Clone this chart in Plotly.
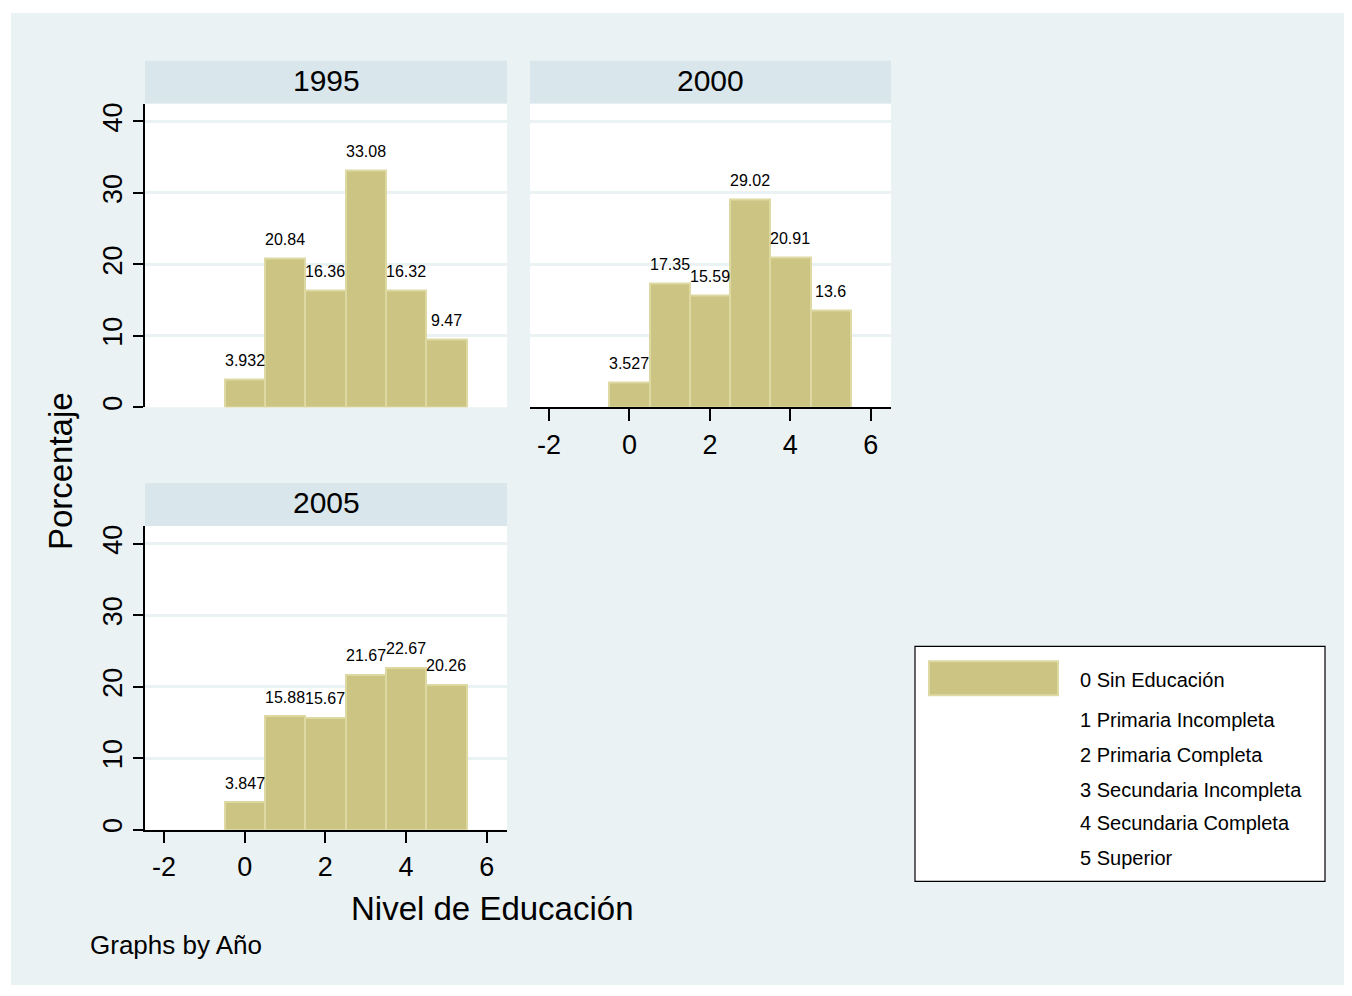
import plotly.graph_objects as go

# ---------------- data ----------------
years = ["1995", "2000", "2005"]
levels = [0, 1, 2, 3, 4, 5]
pct_1995 = [3.932, 20.84, 16.36, 33.08, 16.32, 9.47]
pct_2000 = [3.527, 17.35, 15.59, 29.02, 20.91, 13.6]
pct_2005 = [3.847, 15.88, 15.67, 21.67, 22.67, 20.26]
x_ticks = [-2, 0, 2, 4, 6]
x_tick_text = ["-2", "0", "2", "4", "6"]
y_ticks = [0, 10, 20, 30, 40]
legend_labels = ["0 Sin Educación", "1 Primaria Incompleta", "2 Primaria Completa",
                 "3 Secundaria Incompleta", "4 Secundaria Completa", "5 Superior"]
x_title = "Nivel de Educación"
y_title = "Porcentaje"
note = "Graphs by Año"

# ---------------- style ----------------
OFF = 8                       # page body margin
W, H = 1344, 980
FONT = "Liberation Sans, Arial, Helvetica, sans-serif"
BG = "#eaf2f3"
STRIP = "#d9e6eb"
BAR = "rgb(204,196,130)"
BAR_LINE = "rgb(222,217,163)"
GRID = "#eaf2f3"


def fx(p):
    return (p - OFF) / W


def fy(p):
    return 1 - (p - OFF) / H


# panel pixel boxes in screen coordinates (left, right, top, bottom)
panels = [
    (145, 507, 103, 408),
    (530, 891, 103, 408),
    (145, 507, 527, 832),
]
STRIP_H = 43
XR = [-2.47, 6.5]
YR = [0, 42.5]

fig = go.Figure()
series = [pct_1995, pct_2000, pct_2005]
shapes = []
annotations = []

# page background
shapes.append(dict(type="rect", xref="paper", yref="paper", x0=fx(11), x1=1.0,
                   y0=0.0, y1=fy(12), fillcolor=BG, line=dict(width=0), layer="below"))

for i, (yr, vals) in enumerate(zip(years, series)):
    l, r, t, b = panels[i]
    xa = "x" if i == 0 else f"x{i+1}"
    ya = "y" if i == 0 else f"y{i+1}"
    fig.add_trace(go.Bar(x=levels, y=vals, width=1, xaxis=xa, yaxis=ya,
                         marker=dict(color=BAR, line=dict(color=BAR_LINE, width=2)),
                         showlegend=False, hoverinfo="x+y"))
    # white plot area
    shapes.append(dict(type="rect", xref="paper", yref="paper", x0=fx(l), x1=fx(r),
                       y0=fy(b), y1=fy(t), fillcolor="white", line=dict(width=0), layer="below"))
    # strip
    shapes.append(dict(type="rect", xref="paper", yref="paper", x0=fx(l), x1=fx(r),
                       y0=fy(t), y1=fy(t - STRIP_H), fillcolor=STRIP, line=dict(width=0), layer="below"))
    annotations.append(dict(xref="paper", yref="paper", x=fx((l + r) / 2), y=fy(t - STRIP_H / 2 - 2),
                            text=yr, showarrow=False, xanchor="center", yanchor="middle",
                            font=dict(family=FONT, size=30, color="black")))
    # value labels
    for lv, v in zip(levels, vals):
        annotations.append(dict(xref=xa, yref=ya, x=lv, y=v, text=f"{v:.4g}", showarrow=False,
                                xanchor="center", yanchor="middle", yshift=19,
                                font=dict(family=FONT, size=16, color="black")))

    show_x = i in (1, 2)
    show_y = i in (0, 2)
    xkey = "xaxis" if i == 0 else f"xaxis{i+1}"
    ykey = "yaxis" if i == 0 else f"yaxis{i+1}"
    fig.layout[xkey] = dict(domain=[fx(l), fx(r)], anchor=ya, range=XR,
                            tickvals=x_ticks, ticktext=x_tick_text,
                            showgrid=False, zeroline=False,
                            showline=show_x, linecolor="black", linewidth=1.5,
                            ticks="outside" if show_x else "", ticklen=12, tickwidth=1.5,
                            tickcolor="black", showticklabels=show_x,
                            tickfont=dict(family=FONT, size=27, color="black"))
    fig.layout[ykey] = dict(domain=[fy(b), fy(t)], anchor=xa, range=YR, tickvals=y_ticks,
                            showgrid=True, gridcolor=GRID, gridwidth=2.5, zeroline=False,
                            showline=show_y, linecolor="black", linewidth=1.5,
                            ticks="outside" if show_y else "", ticklen=10, tickwidth=1.5,
                            tickcolor="black", showticklabels=show_y, tickangle=-90,
                            tickfont=dict(family=FONT, size=27, color="black"))

# axis titles and note
annotations.append(dict(xref="paper", yref="paper", x=fx(60), y=fy(472), text=y_title,
                        textangle=-90, showarrow=False, xanchor="center", yanchor="middle",
                        font=dict(family=FONT, size=33, color="black")))
annotations.append(dict(xref="paper", yref="paper", x=fx(492), y=fy(911), text=x_title,
                        showarrow=False, xanchor="center", yanchor="middle",
                        font=dict(family=FONT, size=33, color="black")))
annotations.append(dict(xref="paper", yref="paper", x=fx(88), y=fy(948), text=note,
                        showarrow=False, xanchor="left", yanchor="middle",
                        font=dict(family=FONT, size=26, color="black")))

# legend (drawn)
shapes.append(dict(type="rect", xref="paper", yref="paper", x0=fx(915), x1=fx(1325),
                   y0=fy(884), y1=fy(648), fillcolor="white", line=dict(color="black", width=1.2)))
shapes.append(dict(type="rect", xref="paper", yref="paper", x0=fx(929), x1=fx(1058),
                   y0=fy(697), y1=fy(663), fillcolor=BAR, line=dict(color=BAR_LINE, width=2)))
legend_y = [682, 722, 757, 792, 825, 860]
for lab, ly in zip(legend_labels, legend_y):
    annotations.append(dict(xref="paper", yref="paper", x=fx(1078), y=fy(ly), text=lab,
                            showarrow=False, xanchor="left", yanchor="middle",
                            font=dict(family=FONT, size=20, color="black")))

fig.update_layout(width=W, height=H, margin=dict(l=0, r=0, t=0, b=0),
                  paper_bgcolor="white", plot_bgcolor="rgba(0,0,0,0)",
                  bargap=0, shapes=shapes, annotations=annotations, showlegend=False,
                  font=dict(family=FONT, color="black"))

fig.write_html("out.html")
